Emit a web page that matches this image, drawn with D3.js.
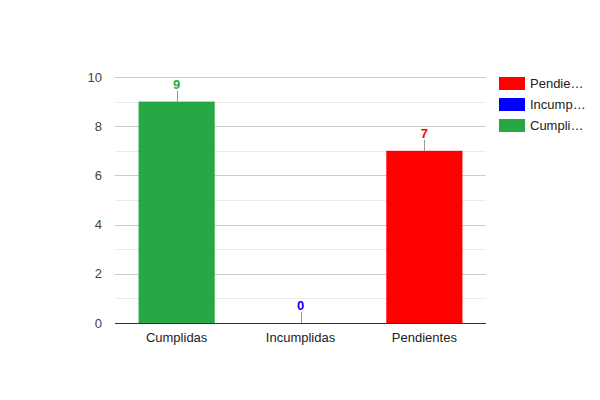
<!doctype html>
<html lang="es">
<head>
<meta charset="UTF-8">
<title>Tareas</title>
<style>
  body { margin: 0; background: #fff; }
  text { font-family: Arial, "Liberation Sans", sans-serif; }
</style>
</head>
<body>
<div class="container"></div>
<script src="https://d3js.org/d3.v7.min.js"></script>
<script>
  const categories = ['Cumplidas', 'Incumplidas', 'Pendientes'];
  const values = [9, 0, 7];
  const colors = ['#28a745', '#0000ff', '#ff0000'];
  const legendLabels = ['Pendie…', 'Incump…', 'Cumpli…'];
  const legendColors = ['#ff0000', '#0000ff', '#28a745'];
  const yTicks = [0, 2, 4, 6, 8, 10];
  const yMinorTicks = [1, 3, 5, 7, 9];

  const SVG_WIDTH = 600;
  const SVG_HEIGHT = 400;
  const LEFT = 115, RIGHT = 486, TOP = 77, BOTTOM = 323;

  const svg = d3.select('.container')
    .append('svg')
    .attr('width', SVG_WIDTH)
    .attr('height', SVG_HEIGHT);

  const x = d3.scaleBand()
    .domain(categories)
    .range([LEFT, RIGHT])
    .paddingInner(0.385)
    .paddingOuter(0.19);

  const y = d3.scaleLinear()
    .domain([0, 10])
    .range([BOTTOM, TOP]);

  // minor gridlines
  svg.append('g').selectAll('line')
    .data(yMinorTicks)
    .join('line')
    .attr('x1', LEFT).attr('x2', RIGHT)
    .attr('y1', d => Math.round(y(d)) + 0.5).attr('y2', d => Math.round(y(d)) + 0.5)
    .attr('stroke', '#ebebeb');

  // major gridlines
  svg.append('g').selectAll('line')
    .data(yTicks.filter(d => d !== 0))
    .join('line')
    .attr('x1', LEFT).attr('x2', RIGHT)
    .attr('y1', d => Math.round(y(d)) + 0.5).attr('y2', d => Math.round(y(d)) + 0.5)
    .attr('stroke', '#cccccc');

  // y axis labels
  const yAxis = d3.axisLeft(y).tickValues(yTicks).tickSize(0).tickPadding(13);
  const yAxisGroup = svg.append('g')
    .attr('transform', `translate(${LEFT}, 0)`)
    .call(yAxis);
  yAxisGroup.select('.domain').remove();
  yAxisGroup.selectAll('text')
    .attr('fill', '#444')
    .style('font-size', '13px')
    .style('font-family', 'Arial, "Liberation Sans", sans-serif');

  // bars
  svg.append('g').selectAll('rect')
    .data(values)
    .join('rect')
    .attr('x', (d, i) => x(categories[i]))
    .attr('width', x.bandwidth())
    .attr('y', d => y(d))
    .attr('height', d => BOTTOM - y(d))
    .attr('fill', (d, i) => colors[i]);

  // annotation stems
  svg.append('g').selectAll('line')
    .data(values)
    .join('line')
    .attr('x1', (d, i) => Math.round(x(categories[i]) + x.bandwidth() / 2) + 0.5)
    .attr('x2', (d, i) => Math.round(x(categories[i]) + x.bandwidth() / 2) + 0.5)
    .attr('y1', d => y(d))
    .attr('y2', d => y(d) - 11)
    .attr('stroke', '#999');

  // annotation labels
  svg.append('g').selectAll('text')
    .data(values)
    .join('text')
    .attr('x', (d, i) => x(categories[i]) + x.bandwidth() / 2)
    .attr('y', d => y(d) - 13)
    .attr('text-anchor', 'middle')
    .attr('fill', (d, i) => colors[i])
    .style('font-size', '13px')
    .style('font-weight', 'bold')
    .text(d => d);

  // baseline
  svg.append('line')
    .attr('x1', LEFT).attr('x2', RIGHT)
    .attr('y1', BOTTOM + 0.5).attr('y2', BOTTOM + 0.5)
    .attr('stroke', '#333');

  // x axis labels
  const xAxis = d3.axisBottom(x).tickSize(0).tickPadding(10);
  const xAxisGroup = svg.append('g')
    .attr('transform', `translate(0, ${BOTTOM})`)
    .call(xAxis);
  xAxisGroup.select('.domain').remove();
  xAxisGroup.selectAll('text')
    .attr('fill', '#222')
    .style('font-size', '13px')
    .style('font-family', 'Arial, "Liberation Sans", sans-serif');

  // legend
  const legend = svg.append('g').attr('transform', 'translate(499, 77)');
  const rows = legend.selectAll('g')
    .data(legendLabels)
    .join('g')
    .attr('transform', (d, i) => `translate(0, ${i * 21})`);
  rows.append('rect')
    .attr('width', 26).attr('height', 13)
    .attr('fill', (d, i) => legendColors[i]);
  rows.append('text')
    .attr('x', 31).attr('y', 11)
    .attr('fill', '#222')
    .style('font-size', '13px')
    .text(d => d);
</script>
</body>
</html>
